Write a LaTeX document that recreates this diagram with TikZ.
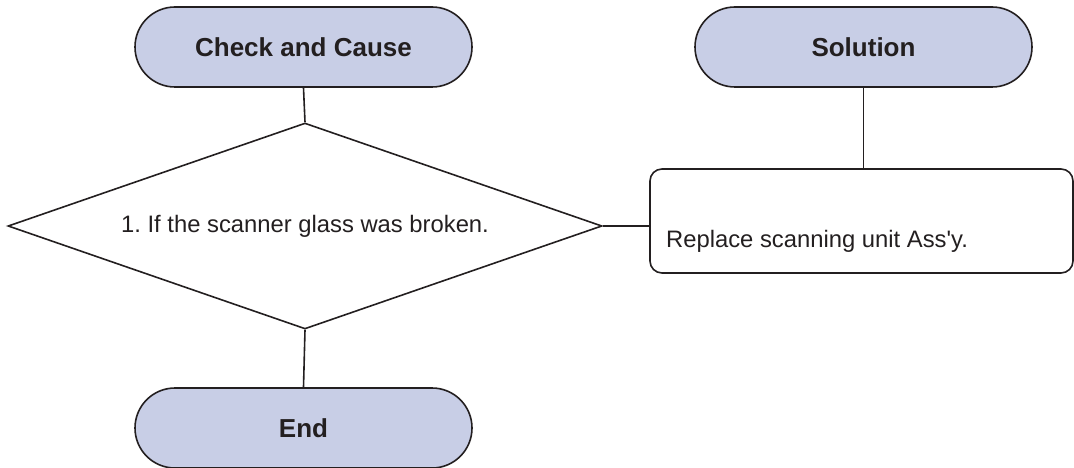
\documentclass[tikz,border=0pt]{standalone}
\usepackage{fontspec}
\setmainfont{Liberation Sans}
\usetikzlibrary{shapes.geometric}
\definecolor{termfill}{RGB}{200,206,230}
\definecolor{ink}{RGB}{35,31,32}
\frenchspacing

\begin{document}
\begin{tikzpicture}[x=1pt, y=-1pt, line width=1.6pt, every node/.style={text=ink},
  terminal/.style={draw=ink, fill=termfill, rectangle, rounded corners=40pt,
    minimum width=337pt, minimum height=80pt, inner sep=0pt,
    font=\bfseries\fontsize{26}{30}\selectfont},
  decision/.style={draw=ink, diamond, aspect=2.88, inner sep=0pt,
    minimum width=594pt, minimum height=206pt,
    font=\fontsize{23.8}{28}\selectfont},
  action/.style={draw=ink, rectangle, rounded corners=12pt,
    minimum width=423pt, minimum height=104pt, inner sep=0pt}]
% page size
\useasboundingbox (0,0) rectangle (1074,468);
% heads
\node[terminal] (check) at (303.5,47) {Check and Cause};
\node[terminal] (solhead) at (863.5,47) {Solution};
% question
\node[decision] (glass) at (305,226) {1. If the scanner glass was broken.};
% answer box
\node[action] (replace) at (861.5,221) {};
\node[anchor=base west, font=\fontsize{23.8}{28}\selectfont] (replacetext)
  at (662,247) {Replace scanning unit Ass\textquotesingle y.};
% end
\node[terminal] (end) at (303.5,428) {End};
% lines
\draw[ink] (check.south) -- (glass.north);
\draw[ink] (glass.south) -- (end.north);
\draw[ink] (glass.east) -- (glass.east -| replace.west);
\draw[ink] (solhead.south) -- (solhead.south |- replace.north);
\end{tikzpicture}
\end{document}
